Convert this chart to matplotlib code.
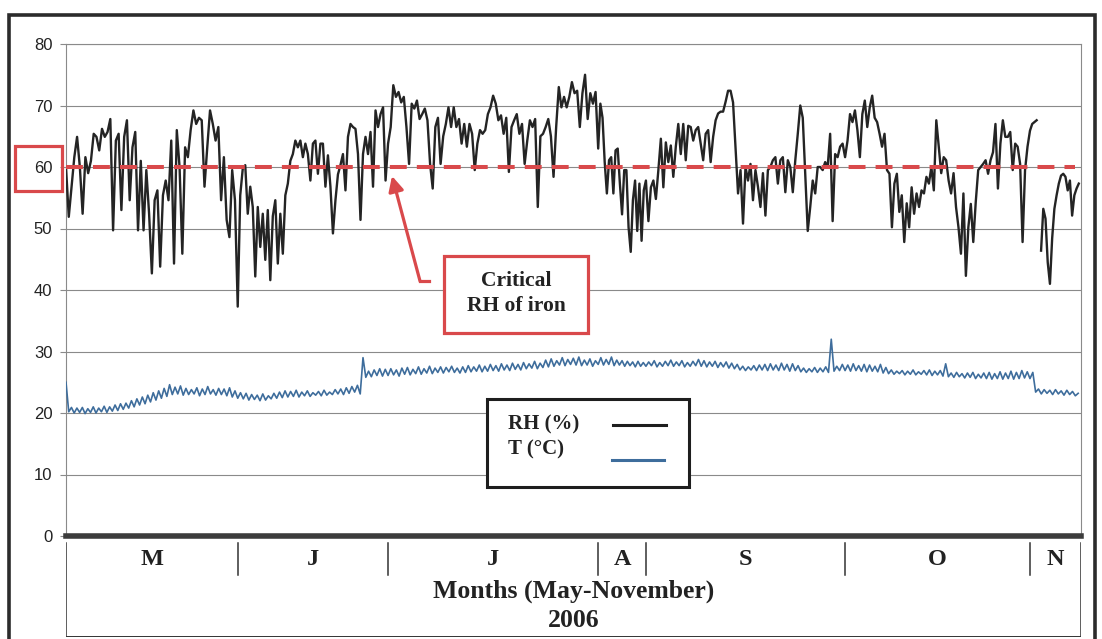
import numpy as np
import matplotlib.pyplot as plt
from matplotlib.patches import Rectangle
from matplotlib.lines import Line2D

# month columns of the table under the plot (x axis in reading-days)
months = ['M', 'J', 'J', 'A', 'S', 'O', 'N']
month_edges = [0, 31.3, 58.7, 97.0, 105.7, 142.0, 175.7, 185.0]
critical_rh = 60
series_names = ['RH (%)', 'T (°C)']

# relative humidity readings, one list per month column
rh_may = [60.0, 51.9, 56.8, 61.6, 64.9, 60.0, 52.4, 61.6, 59.0, 61.0,
          65.4, 64.9, 62.7, 66.2, 64.9, 65.7, 67.8, 49.7, 64.3, 65.4,
          53.0, 64.9, 67.6, 54.6, 63.2, 65.7, 49.7, 61.0, 49.7, 59.5,
          52.4, 42.7, 54.6, 56.2, 43.8, 55.4, 57.8, 54.6, 64.3, 44.3,
          66.0, 60.0, 45.9, 63.2, 61.6, 66.0, 69.2, 67.0, 68.0, 67.6,
          56.8, 63.2, 69.2, 67.0, 64.3, 66.5, 54.6, 61.6, 51.4, 48.6,
          59.5, 54.6]
rh_jun = [37.3, 55.4, 59.7, 60.3, 52.4, 56.8, 53.5, 42.2, 53.5, 47.0,
          52.4, 44.9, 53.0, 41.6, 52.0, 54.6, 44.3, 52.4, 45.9, 55.4,
          57.3, 61.0, 62.1, 64.3, 63.2, 64.3, 61.6, 63.8, 62.1, 57.8,
          63.8, 64.3, 58.9, 63.8, 63.8, 56.8, 61.9, 56.8, 49.2, 54.6,
          58.8, 60.3, 62.1, 56.2, 64.9, 67.0, 66.5, 66.2, 62.1, 51.4,
          62.1, 64.9, 62.1, 65.7, 56.8, 69.2, 66.5, 68.6, 69.7, 57.8]
rh_jul = [63.8, 66.5, 73.3, 71.4, 72.2, 70.5, 71.4, 66.5, 60.5, 70.3,
          69.5, 70.8, 67.8, 68.6, 69.5, 67.6, 60.5, 56.5, 66.5, 68.0,
          60.5, 65.0, 67.0, 69.7, 66.5, 69.7, 66.5, 67.8, 63.8, 67.0,
          63.3, 67.0, 65.4, 59.5, 63.8, 66.0, 65.4, 66.0, 68.6, 69.7,
          71.6, 70.3, 67.6, 68.4, 65.4, 68.0, 59.2, 66.5, 67.6, 68.6,
          65.4, 67.0, 60.5, 64.3, 67.6, 66.5, 67.8, 53.5, 65.0, 65.4,
          66.5, 67.8, 65.0, 58.4, 66.5, 73.0, 69.7, 71.4, 69.7, 71.4,
          73.8, 72.0, 72.4, 66.5, 72.0, 75.0, 67.8, 72.0, 70.3, 72.2]
rh_aug = [63.0, 70.3, 68.0, 60.8, 55.7, 61.1, 61.6, 55.7, 62.7, 63.0,
          57.3, 52.3, 59.5, 59.5, 50.2, 46.2, 54.6, 57.8, 49.6, 57.3,
          48.0, 56.2]
rh_sep = [57.8, 51.2, 56.7, 57.8, 54.8, 59.5, 64.6, 56.7, 64.0, 60.8,
          63.5, 58.4, 63.3, 67.0, 62.1, 67.0, 61.1, 66.7, 66.5, 64.3,
          66.0, 66.5, 63.8, 61.1, 65.4, 66.0, 60.8, 64.9, 67.6, 68.7,
          69.0, 69.0, 70.6, 72.4, 72.4, 70.5, 63.0, 55.7, 59.5, 50.8,
          60.0, 57.8, 60.5, 54.6, 59.5, 56.8, 53.5, 59.0, 52.1, 59.5,
          60.0, 61.1, 61.6, 57.3, 61.1, 61.6, 55.9, 61.1, 60.0, 55.9,
          61.1, 65.4, 70.0, 68.0, 58.9, 49.6, 53.5, 57.8, 55.7, 60.0,
          60.0, 59.5, 60.8, 60.0, 65.4, 51.2, 62.1, 61.6, 63.3, 63.8]
rh_oct = [61.6, 64.3, 68.6, 67.3, 69.2, 66.0, 61.6, 68.6, 70.8, 66.5,
          69.7, 71.6, 68.0, 67.3, 65.4, 63.3, 65.4, 59.5, 58.9, 50.2,
          57.3, 58.9, 52.7, 55.4, 47.8, 54.1, 50.2, 56.7, 52.4, 55.7,
          53.5, 56.2, 55.7, 58.4, 57.3, 60.0, 56.2, 67.6, 63.3, 59.0,
          61.6, 61.1, 57.8, 55.7, 59.0, 53.5, 50.2, 45.9, 55.7, 42.3,
          50.2, 54.0, 47.8, 54.3, 59.5, 60.0, 60.5, 61.1, 58.9, 61.1,
          62.4, 67.0, 56.5, 63.8, 67.6, 64.9, 64.9, 65.7, 59.5, 63.8,
          63.3, 60.5, 47.8, 59.5, 63.3]
rh_nov = [65.9, 67.0, 67.3, 67.6, np.nan, 46.4, 53.2, 51.6, 44.5, 41.0,
          48.4, 53.2, 55.4, 57.3, 58.6, 58.9, 58.4, 56.2, 57.8, 52.1,
          55.4, 56.5, 57.3]

# temperature readings (daily low / high), one list per month column
t_may = [25.0, 20.2, 20.9, 20.0, 20.8, 20.1, 20.9, 19.9, 20.7, 20.1, 21.0,
         20.0, 20.8, 20.2, 21.1, 20.1, 21.0, 20.3, 21.3, 20.4, 21.5,
         20.6, 21.6, 20.8, 22.0, 21.0, 22.3, 21.3, 22.6, 21.5, 22.9,
         21.8, 23.3, 22.1, 23.6, 22.4, 24.0, 22.7, 24.6, 23.0, 24.2,
         23.1, 24.4, 22.9, 24.0, 23.0, 23.8, 23.1, 24.1, 22.8, 23.9,
         23.0, 24.3, 23.1, 23.8, 22.9, 24.0, 23.0, 23.9, 22.8, 24.1,
         22.6, 23.6]
t_jun = [22.4, 23.3, 22.3, 23.2, 22.1, 23.0, 22.2, 22.9, 22.0, 23.1,
         22.1, 22.8, 22.3, 23.2, 22.4, 23.4, 22.5, 23.6, 22.6, 23.5,
         22.7, 23.7, 22.6, 23.4, 22.8, 23.6, 22.7, 23.3, 22.9, 23.5,
         22.8, 23.7, 22.9, 23.4, 23.0, 23.8, 23.1, 23.9, 23.0, 24.1,
         23.2, 24.3, 23.4, 24.5, 23.1, 29.0, 25.8, 26.8, 25.9, 27.0,
         26.1, 27.2, 26.0, 27.1]
t_jul = [26.1, 27.2, 26.2, 27.0, 26.0, 27.3, 26.3, 27.4, 26.2, 27.1,
         26.4, 27.5, 26.3, 27.2, 26.5, 27.6, 26.4, 27.3, 26.6, 27.5,
         26.5, 27.4, 26.7, 27.6, 26.6, 27.3, 26.5, 27.5, 26.6, 27.7,
         26.7, 27.5, 26.8, 27.8, 26.7, 27.6, 26.8, 27.9, 26.9, 27.7,
         26.8, 28.0, 27.0, 27.8, 26.9, 28.1, 27.1, 27.9, 27.0, 28.2,
         27.2, 28.0, 27.3, 28.4, 27.2, 28.1, 27.4, 28.6, 27.5, 28.8,
         27.6, 28.5, 27.8, 29.0, 27.7, 28.7, 27.9, 28.9, 27.8, 29.1,
         27.7, 28.6, 27.8, 28.8, 27.6, 28.5]
t_aug = [27.9, 29.0, 27.8, 28.7, 27.9, 29.1, 27.7, 28.6, 27.8, 28.5,
         27.6, 28.4, 27.7, 28.3, 27.5, 28.4, 27.6, 28.2]
t_sep = [27.6, 28.3, 27.7, 28.5, 27.5, 28.2, 27.6, 28.4, 27.7, 28.6,
         27.6, 28.3, 27.7, 28.5, 27.5, 28.2, 27.6, 28.4, 27.7, 28.7,
         27.6, 28.5, 27.5, 28.3, 27.6, 28.4, 27.4, 28.2, 27.5, 28.3,
         27.3, 28.1, 27.2, 27.9, 27.0, 27.6, 26.9, 27.5, 27.0, 27.7,
         26.9, 27.8, 27.0, 27.9, 26.9, 28.0, 27.0, 27.8, 26.9, 28.1,
         27.0, 27.9, 26.8, 28.0, 26.9, 27.7, 26.7, 27.3, 26.6, 27.2,
         26.7, 27.4, 26.6, 27.3, 26.7, 27.5, 26.6, 32.0, 26.8, 27.6,
         26.9, 27.9]
t_oct = [26.9, 27.8, 26.8, 28.0, 26.9, 27.7, 26.8, 27.9, 26.7, 27.8,
         26.8, 27.6, 26.7, 27.9, 26.5, 27.4, 26.4, 27.0, 26.3, 26.8,
         26.4, 26.9, 26.2, 26.8, 26.3, 27.0, 26.2, 26.7, 26.3, 26.9,
         26.2, 27.0, 26.1, 26.8, 26.2, 26.9, 26.0, 28.0, 25.9, 26.5,
         25.8, 26.6, 25.9, 26.4, 25.7, 26.5, 25.8, 26.6, 25.6, 26.3,
         25.7, 26.5, 25.6, 26.6, 25.5, 26.4, 25.6, 26.7, 25.5, 26.5,
         25.6, 26.8, 25.5, 26.6, 25.6, 26.9, 25.7, 26.7]
t_nov = [25.6, 26.6, 23.4, 23.9, 23.1, 23.8, 23.2, 23.7, 23.0, 23.8,
         23.1, 23.6, 22.9, 23.7, 23.0, 23.5, 22.8, 23.2]

rh_by_month = [rh_may, rh_jun, rh_jul, rh_aug, rh_sep, rh_oct, rh_nov]
t_by_month = [t_may, t_jun, t_jul, t_aug, t_sep, t_oct, t_nov]


def spread(groups):
    xs, ys = [], []
    for lo, hi, vals in zip(month_edges[:-1], month_edges[1:], groups):
        xs.append(np.linspace(lo, hi, len(vals), endpoint=False))
        ys.append(np.array(vals, dtype=float))
    return np.concatenate(xs), np.concatenate(ys)


rh_x, rh_y = spread(rh_by_month)
t_x, t_y = spread(t_by_month)

W, H = 1102, 639
RED = '#d9494b'
BLUE = '#3e6d9c'
INK = '#222222'
SERIF = 'Liberation Serif'


def fx(px):
    return px / W


def fy(py):
    return 1 - py / H


fig = plt.figure(figsize=(W / 100, H / 100), dpi=100)
fig.patch.set_facecolor('white')

ax = fig.add_axes([fx(66), fy(536), fx(1081) - fx(66), fy(44) - fy(536)])
ax.plot(rh_x, rh_y, color='#242424', lw=1.7, zorder=3)
ax.plot(t_x, t_y, color=BLUE, lw=1.2, zorder=3)
ax.axhline(critical_rh, xmin=0, xmax=0.994, color=RED, lw=2.9,
           dashes=(4.2, 2.5), zorder=4)
ax.axhline(0, color='#3c3c3c', lw=4, zorder=5, clip_on=False)

ax.set_xlim(month_edges[0], month_edges[-1])
ax.set_ylim(0, 80)
ax.set_yticks(range(0, 81, 10))
ax.set_xticks([])
ax.yaxis.grid(True, color='#8a8a8a', lw=0.8)
ax.set_axisbelow(True)
for side in ['left', 'right', 'top']:
    ax.spines[side].set_color('#8a8a8a')
    ax.spines[side].set_linewidth(0.8)
ax.spines['bottom'].set_visible(False)
ax.tick_params(axis='y', length=4.3, width=0.8, color='#8a8a8a', pad=5.5,
               labelsize=12, labelcolor=INK)
for lab in ax.get_yticklabels():
    lab.set_fontfamily('Liberation Sans')

# red box around the 60 label
fig.add_artist(Rectangle((fx(15), fy(191)), fx(62) - fx(15), (191 - 146) / H,
                         transform=fig.transFigure, fill=False, ec=RED, lw=2.3))

# "Critical RH of iron" callout
fig.add_artist(Rectangle((fx(444), fy(333)), fx(588) - fx(444), (333 - 256) / H,
                         transform=fig.transFigure, fc='white', ec=RED, lw=2.3,
                         zorder=6))
fig.text(fx(516), fy(281), 'Critical', ha='center', va='center',
         family=SERIF, weight='bold', fontsize=15.5, color=INK, zorder=7)
fig.text(fx(516), fy(306), 'RH of iron', ha='center', va='center',
         family=SERIF, weight='bold', fontsize=15.5, color=INK, zorder=7)
fig.add_artist(Line2D([fx(429), fx(420)], [fy(281), fy(281)],
                      transform=fig.transFigure, color=RED, lw=2.3))
ax.annotate('', xy=(fx(392), fy(176)), xycoords='figure fraction',
            xytext=(fx(420), fy(281)), textcoords='figure fraction',
            arrowprops=dict(arrowstyle='-|>,head_length=0.9,head_width=0.45',
                            color=RED, lw=2.3, shrinkA=0, shrinkB=0), zorder=6)

# legend box, text left and line sample right
fig.add_artist(Rectangle((fx(487), fy(487)), fx(689) - fx(487), (487 - 399) / H,
                         transform=fig.transFigure, fc='white', ec='#1e1e1e',
                         lw=2.2, zorder=6))
fig.text(fx(508), fy(424), series_names[0], ha='left', va='center',
         family=SERIF, weight='bold', fontsize=15, color=INK, zorder=7)
fig.text(fx(508), fy(449), series_names[1], ha='left', va='center',
         family=SERIF, weight='bold', fontsize=15, color=INK, zorder=7)
fig.add_artist(Line2D([fx(613), fx(666)], [fy(425), fy(425)],
                      transform=fig.transFigure, color='#1e1e1e', lw=2.2, zorder=7))
fig.add_artist(Line2D([fx(612), fx(664)], [fy(460), fy(460)],
                      transform=fig.transFigure, color=BLUE, lw=2.2, zorder=7))

# month table below the plot
tab = fig.add_axes([fx(66), fy(637), fx(1081) - fx(66), fy(538) - fy(637)])
tab.set_xlim(month_edges[0], month_edges[-1])
tab.set_ylim(0, 1)
tab.axis('off')
tab.plot([month_edges[0], month_edges[0]], [0, 0.95], color='#333333', lw=1.1)
tab.plot([month_edges[-1], month_edges[-1]], [0, 0.95], color='#333333', lw=1.1)
tab.plot([month_edges[0], month_edges[-1]], [0, 0], color='#333333', lw=1.4)
for edge in month_edges[1:-1]:
    tab.plot([edge, edge], [0.63, 0.95], color='#333333', lw=1.1)
for lo, hi, name in zip(month_edges[:-1], month_edges[1:], months):
    tab.text((lo + hi) / 2, 0.78, name, ha='center', va='center',
             family=SERIF, weight='bold', fontsize=17.5, color=INK)
mid = (month_edges[0] + month_edges[-1]) / 2
tab.text(mid, 0.46, 'Months (May-November)', ha='center', va='center',
         family=SERIF, weight='bold', fontsize=18.5, color=INK)
tab.text(mid, 0.17, '2006', ha='center', va='center',
         family=SERIF, weight='bold', fontsize=18.5, color=INK)

# outer frame of the scanned figure
fig.add_artist(Rectangle((fx(9), -0.05), fx(1095) - fx(9), fy(15) + 0.05,
                         transform=fig.transFigure, fill=False, ec='#2b2b2b',
                         lw=2.6))

fig.savefig('out.png', dpi=100)
